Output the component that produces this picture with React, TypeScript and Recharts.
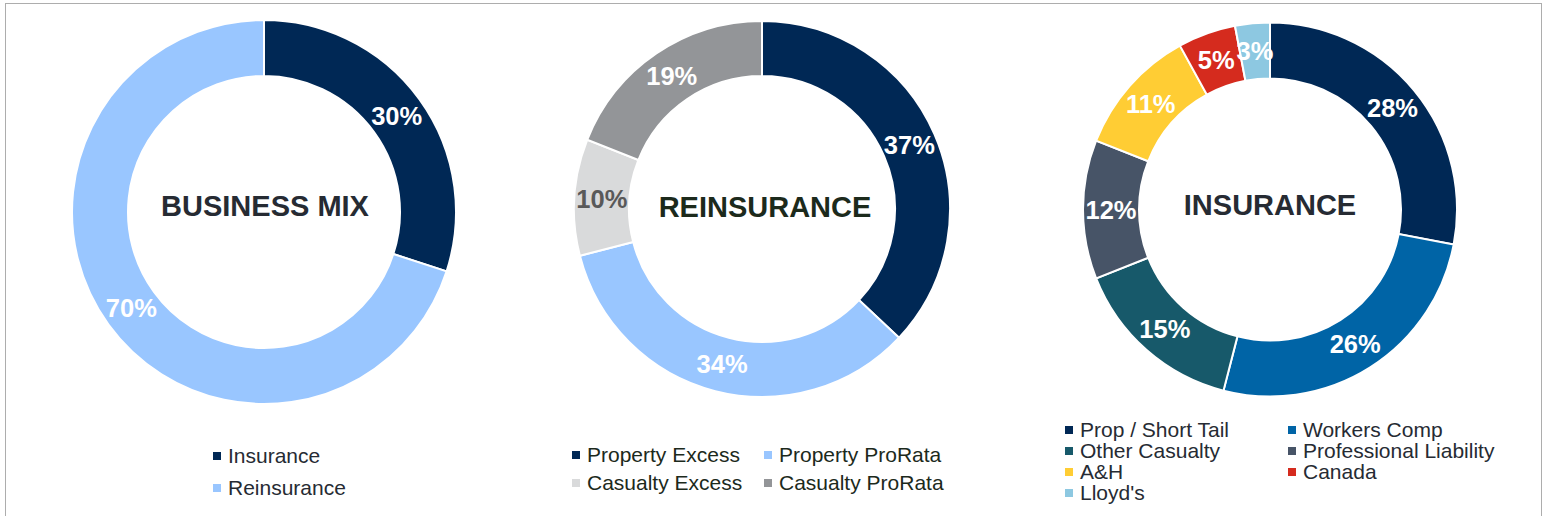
import React from "react";
import { PieChart, Pie, Cell } from "recharts";

const mixNames = ["Insurance", "Reinsurance"];
const mixValues = [30, 70];
const mixColors = ["#002855", "#99C6FF"];
const mixLabelColors = ["#FFFFFF", "#FFFFFF"];

const reNames = ["Property Excess", "Property ProRata", "Casualty Excess", "Casualty ProRata"];
const reValues = [37, 34, 10, 19];
const reColors = ["#002855", "#99C6FF", "#D9DADB", "#939598"];
const reLabelColors = ["#FFFFFF", "#FFFFFF", "#595959", "#FFFFFF"];

const insNames = ["Prop / Short Tail", "Workers Comp", "Other Casualty", "Professional Liability", "A&H", "Canada", "Lloyd's"];
const insValues = [28, 26, 15, 12, 11, 5, 3];
const insColors = ["#002855", "#0064A6", "#17596A", "#475467", "#FFCD34", "#D52B1E", "#8DC8E1"];
const insLabelColors = ["#FFFFFF", "#FFFFFF", "#FFFFFF", "#FFFFFF", "#FFFFFF", "#FFFFFF", "#FFFFFF"];

const titles = ["BUSINESS MIX", "REINSURANCE", "INSURANCE"];

const FONT = "'Liberation Sans', Arial, sans-serif";
const RAD = Math.PI / 180;

const toData = (names: string[], values: number[]) => names.map((name, i) => ({ name, value: values[i] }));

const makeLabel = (labelColors: string[]) => (props: any) => {
  const { cx, cy, midAngle, innerRadius, outerRadius, value, index } = props;
  const r = (innerRadius + outerRadius) / 2;
  const x = cx + r * Math.cos(-midAngle * RAD);
  const y = cy + r * Math.sin(-midAngle * RAD);
  return (
    <text
      x={x}
      y={y}
      fill={labelColors[index]}
      textAnchor="middle"
      dominantBaseline="central"
      fontFamily={FONT}
      fontWeight="bold"
      fontSize={25.5}
    >
      {`${value}%`}
    </text>
  );
};

const LegendItem = ({ x, y, color, text, textColor }: any) => (
  <div style={{ position: "absolute", left: x, top: y - 11, height: 22, display: "flex", alignItems: "center", whiteSpace: "nowrap" }}>
    <div style={{ width: 8, height: 8, background: color, marginRight: 7 }} />
    <span style={{ fontFamily: FONT, fontSize: 21, color: textColor, lineHeight: "22px" }}>{text}</span>
  </div>
);

const Title = ({ cx, cy, text, color }: any) => (
  <div style={{ position: "absolute", left: cx - 150, top: cy - 17, width: 300, textAlign: "center", fontFamily: FONT, fontWeight: "bold", fontSize: 29, lineHeight: "34px", color }}>
    {text}
  </div>
);

export default function App() {
  const mixData = toData(mixNames, mixValues);
  const reData = toData(reNames, reValues);
  const insData = toData(insNames, insValues);
  return (
    <div style={{ position: "fixed", left: 0, top: 0, width: 1548, height: 516, background: "#FFFFFF", overflow: "hidden" }}>
      <div style={{ position: "absolute", left: 5, top: 3, width: 1535, height: 530, borderTop: "1.5px solid #ADADAD", borderLeft: "1.5px solid #ADADAD", borderRight: "1.5px solid #ADADAD" }} />
      <PieChart width={1548} height={516} margin={{ top: 0, right: 0, bottom: 0, left: 0 }} style={{ position: "absolute", left: 0, top: 0 }}>
        <Pie data={mixData} dataKey="value" nameKey="name" cx={264} cy={212} innerRadius={136} outerRadius={192} startAngle={90} endAngle={-270} stroke="#FFFFFF" strokeWidth={2} labelLine={false} label={makeLabel(mixLabelColors)} isAnimationActive={false}>
          {mixData.map((d, i) => <Cell key={d.name} fill={mixColors[i]} />)}
        </Pie>
        <Pie data={reData} dataKey="value" nameKey="name" cx={762} cy={209} innerRadius={133} outerRadius={188} startAngle={90} endAngle={-270} stroke="#FFFFFF" strokeWidth={2} labelLine={false} label={makeLabel(reLabelColors)} isAnimationActive={false}>
          {reData.map((d, i) => <Cell key={d.name} fill={reColors[i]} />)}
        </Pie>
        <Pie data={insData} dataKey="value" nameKey="name" cx={1270} cy={209.5} innerRadius={131} outerRadius={187} startAngle={90} endAngle={-270} stroke="#FFFFFF" strokeWidth={2} labelLine={false} label={makeLabel(insLabelColors)} isAnimationActive={false}>
          {insData.map((d, i) => <Cell key={d.name} fill={insColors[i]} />)}
        </Pie>
      </PieChart>
      <Title cx={265} cy={206} text={titles[0]} color="#262B33" />
      <Title cx={765} cy={207} text={titles[1]} color="#1C2A1C" />
      <Title cx={1270} cy={205} text={titles[2]} color="#262B33" />

      <LegendItem x={213} y={456} color={mixColors[0]} text={mixNames[0]} textColor="#262B33" />
      <LegendItem x={213} y={488} color={mixColors[1]} text={mixNames[1]} textColor="#262B33" />

      <LegendItem x={572} y={455} color={reColors[0]} text={reNames[0]} textColor="#1C2A1C" />
      <LegendItem x={764} y={455} color={reColors[1]} text={reNames[1]} textColor="#1C2A1C" />
      <LegendItem x={572} y={483} color={reColors[2]} text={reNames[2]} textColor="#1C2A1C" />
      <LegendItem x={764} y={483} color={reColors[3]} text={reNames[3]} textColor="#1C2A1C" />

      {insNames.map((n, i) => (
        <LegendItem key={n} x={i % 2 === 0 ? 1065 : 1288} y={430 + Math.floor(i / 2) * 21} color={insColors[i]} text={n} textColor="#262B33" />
      ))}
    </div>
  );
}
